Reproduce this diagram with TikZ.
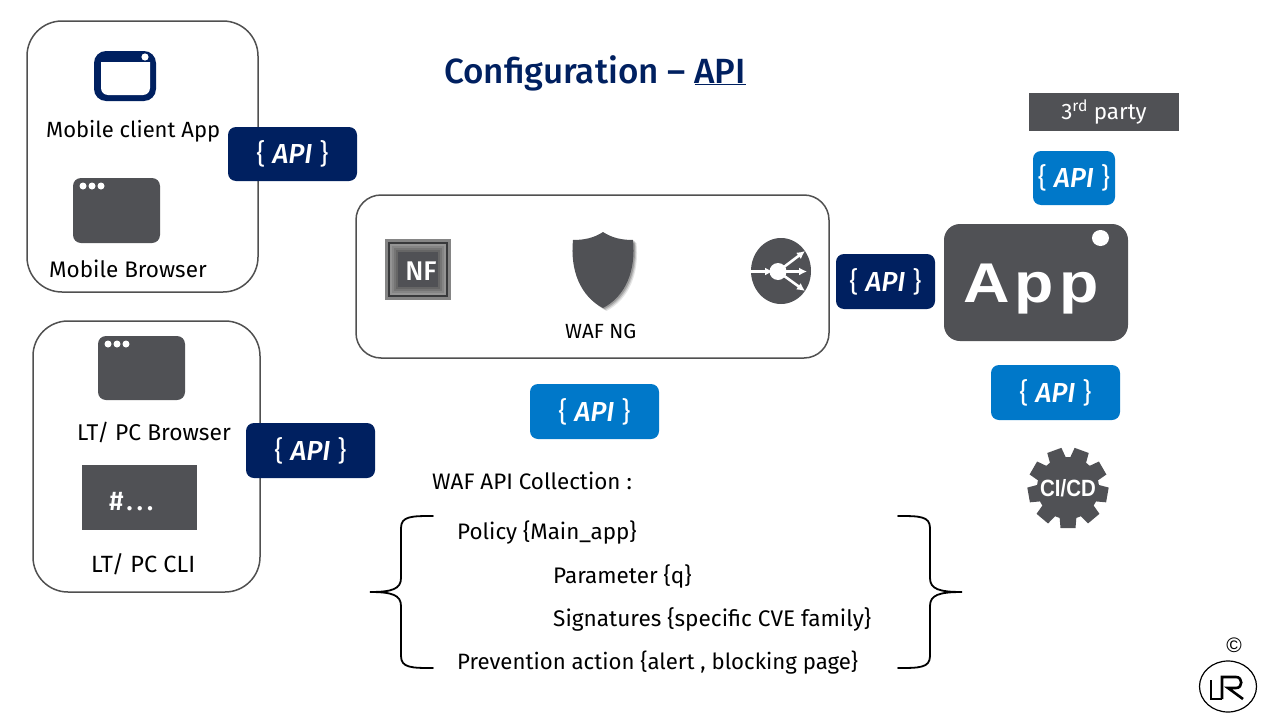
\documentclass[tikz,border=0pt]{standalone}
\usepackage{fontspec}
\setmainfont{Fira Sans}
\newfontfamily\heavyfont{Liberation Sans}[BoldFont=Liberation Sans Bold]
\newfontfamily\titlefont{Fira Sans Medium}[ItalicFont=Fira Sans Medium Italic]
\usetikzlibrary{calc,arrows.meta}
\definecolor{navy}{HTML}{002060}
\definecolor{sky}{HTML}{0078C9}
\definecolor{slate}{HTML}{505155}
\definecolor{edge}{HTML}{505050}
\tikzset{
  panel/.style={draw=edge,line width=1.5pt,fill=white},
  apibox/.style={fill=#1,rounded corners=8pt,text=white,inner sep=0pt,font=\fontsize{27.5}{30}\selectfont},
  label/.style={anchor=base west,inner sep=0pt,text=black,font=\fontsize{#1}{26}\selectfont},
  iconfill/.style={fill=slate,draw=none},
  dotw/.style={fill=white,draw=none},
  brace/.style={draw=black,line width=1.8pt,line cap=round},
  logo/.style={draw=black,line width=2.6pt},
  lbarrow/.style={white,line width=2.6pt,-{Latex[length=8pt,width=8pt]}},
}
\newcommand{\apiat}[6]{\node[apibox=#6,minimum width=#4 pt-#2 pt,minimum height=#5 pt-#3 pt] (#1) at ({(#2+#4)/2},{(#3+#5)/2}) {\raisebox{-4pt}{\{ {\titlefont\itshape API} \}}};}
\newcommand{\shieldpath}{(603,232) .. controls (594,238) and (584,240) .. (573,240) .. controls (570,270) and (580,296) .. (603,308) .. controls (626,296) and (636,270) .. (633,240) .. controls (622,240) and (612,238) .. (603,232) -- cycle}
\begin{document}
\begin{tikzpicture}[x=1pt,y=-1pt]
\useasboundingbox (0,0) rectangle (1280,720);
\fill[white] (0,0) rectangle (1280,720);
% panels
\draw[panel,rounded corners=35pt] (27,21) rectangle (258,292);
\draw[panel,rounded corners=35pt] (33,321) rectangle (260,592);
\draw[panel,rounded corners=25pt] (356,195) rectangle (829,358);
% title
\node[anchor=base west,inner sep=0pt,text=navy,font=\fontsize{35}{40}\titlefont] (title) at (444,83) {Configuration – \underline{API}};
% window icon
\fill[navy,rounded corners=12pt] (94,51) rectangle (156,101);
\fill[white] (101,62) -- (150,62) -- (150,88) arc (0:90:7) -- (108,95) arc (90:180:7) -- cycle;
\fill[dotw] (145,57) circle (3.6);
% browser icons
\fill[iconfill,rounded corners=8pt] (73,178) rectangle (160,243);
\foreach \x in {83,92,101} \fill[dotw] (\x,186) circle (3.5);
\fill[iconfill,rounded corners=8pt] (98,336) rectangle (185,400);
\foreach \x in {108,117,126} \fill[dotw] (\x,344) circle (3.5);
% cli
\node[fill=slate,minimum width=115pt,minimum height=65pt,inner sep=0pt] (cli) at (139.5,497.5) {};
\node[anchor=base west,inner sep=0pt,text=white,font=\fontsize{27}{30}\titlefont\addfontfeature{LetterSpace=14}] (prompt) at (109,510) {\#...};
% labels
\node[label=22] (l1) at (46,137) {Mobile client App};
\node[label=22.5] (l2) at (49,277) {Mobile Browser};
\node[label=22.8] (l3) at (77,440) {LT/ PC Browser};
\node[label=23.5] (l4) at (91,572) {LT/ PC CLI};
\node[label=20.5] (waf) at (565,338) {WAF NG};
\node[label=22.4] (c0) at (432,489) {WAF API Collection :};
\node[label=22.4] (c1) at (457,539) {Policy \{Main\_app\}};
\node[label=22.5] (c2) at (553,583) {Parameter \{q\}};
\node[label=22.6] (c3) at (553,626) {Signatures \{specific CVE family\}};
\node[label=22.2] (c4) at (457,669) {Prevention action \{alert , blocking page\}};
% NF
\fill[black!48] (385,239) rectangle (451,300);
\fill[slate!70!black] (388,242) rectangle (448,297);
\fill[black!42] (390,244) rectangle (446,295);
\fill[black!48] (392,246) rectangle (444,293);
\fill[black!54] (394,248) rectangle (442,291);
\fill[black!60] (396,250) rectangle (440,289);
\fill[slate] (398,252) rectangle (438,287);
\node[text=white,inner sep=0pt,font=\fontsize{27}{30}\titlefont] (nf) at (421,271) {NF};
% shield
\fill[black,opacity=.10,xshift=3.5pt,yshift=-3pt] \shieldpath;
\fill[black,opacity=.15,xshift=2.5pt,yshift=-2pt] \shieldpath;
\fill[black,opacity=.20,xshift=1.5pt,yshift=-1pt] \shieldpath;
\path[fill=slate] \shieldpath;
% balancer
\fill[iconfill] (781,271) ellipse (30 and 33);
\fill[dotw] (778,271.5) circle (8.5);
\draw[lbarrow] (751,271.5) -- (773,271.5);
\draw[lbarrow] (778,271.5) -- (805,251);
\draw[lbarrow] (778,271.5) -- (807,271.5);
\draw[lbarrow] (778,271.5) -- (805,291);
% App
\fill[iconfill,rounded corners=16pt] (944,224) rectangle (1128,341);
\fill[dotw] (1100.5,238) ellipse (8.5 and 8);
\node[anchor=base west,inner sep=0pt,text=white,font=\fontsize{56}{60}\heavyfont\bfseries\addfontfeature{LetterSpace=8}] (app) at (963,302) {\scalebox{1.15}[1]{App}};
% 3rd party
\node[fill=slate,minimum width=150pt,minimum height=38pt,inner sep=0pt,text=white,font=\fontsize{22.4}{26}\selectfont] (third) at (1104,112) {3\textsuperscript{rd} party};
% API boxes
\apiat{a1}{228}{127}{357}{181}{navy}
\apiat{a2}{246}{423}{375}{478}{navy}
\apiat{a3}{836}{254}{935}{309}{navy}
\apiat{a4}{530}{384}{659}{439}{sky}
\apiat{a5}{1033}{151}{1115}{205}{sky}
\apiat{a6}{991}{365}{1120}{420}{sky}
% gear
\fill[slate] (1068,488) circle (31);
\foreach \a in {90,130,170,210,250,290,330,370,410}
  \fill[slate] ($(1068,488)+(\a:28)+(\a+90:8.5)$) -- ($(1068,488)+(\a:40)+(\a+90:7.5)$) -- ($(1068,488)+(\a:40)+(\a-90:7.5)$) -- ($(1068,488)+(\a:28)+(\a-90:8.5)$) -- cycle;
\node[text=white,inner sep=0pt,font=\fontsize{23.5}{26}\heavyfont\bfseries] (cicd) at (1068,488) {\scalebox{.87}[1]{CI/CD}};
% braces
\draw[brace] (433,516) .. controls (412,516) and (401,516) .. (401,528) -- (401,578) .. controls (401,589) and (392,592) .. (370,592) .. controls (392,592) and (401,595) .. (401,606) -- (401,656) .. controls (401,668) and (412,668) .. (433,668);
\draw[brace] (898,516) .. controls (919,516) and (930,516) .. (930,528) -- (930,578) .. controls (930,589) and (939,592) .. (962,592) .. controls (939,592) and (930,595) .. (930,606) -- (930,656) .. controls (930,668) and (919,668) .. (898,668);
% logo
\node[inner sep=0pt,text=black,font=\fontsize{21}{24}\heavyfont] (copy) at (1234,645) {©};
\draw[black,line width=1.2pt] (1228,686.5) ellipse (28.5 and 25.5);
\draw[logo] (1211,680) -- (1211,699) -- (1222,699);
\draw[logo] (1222,699) -- (1222,677) -- (1236,677) .. controls (1243,677) and (1243,688) .. (1236,688) -- (1228,688) -- (1243,699);
\end{tikzpicture}
\end{document}
